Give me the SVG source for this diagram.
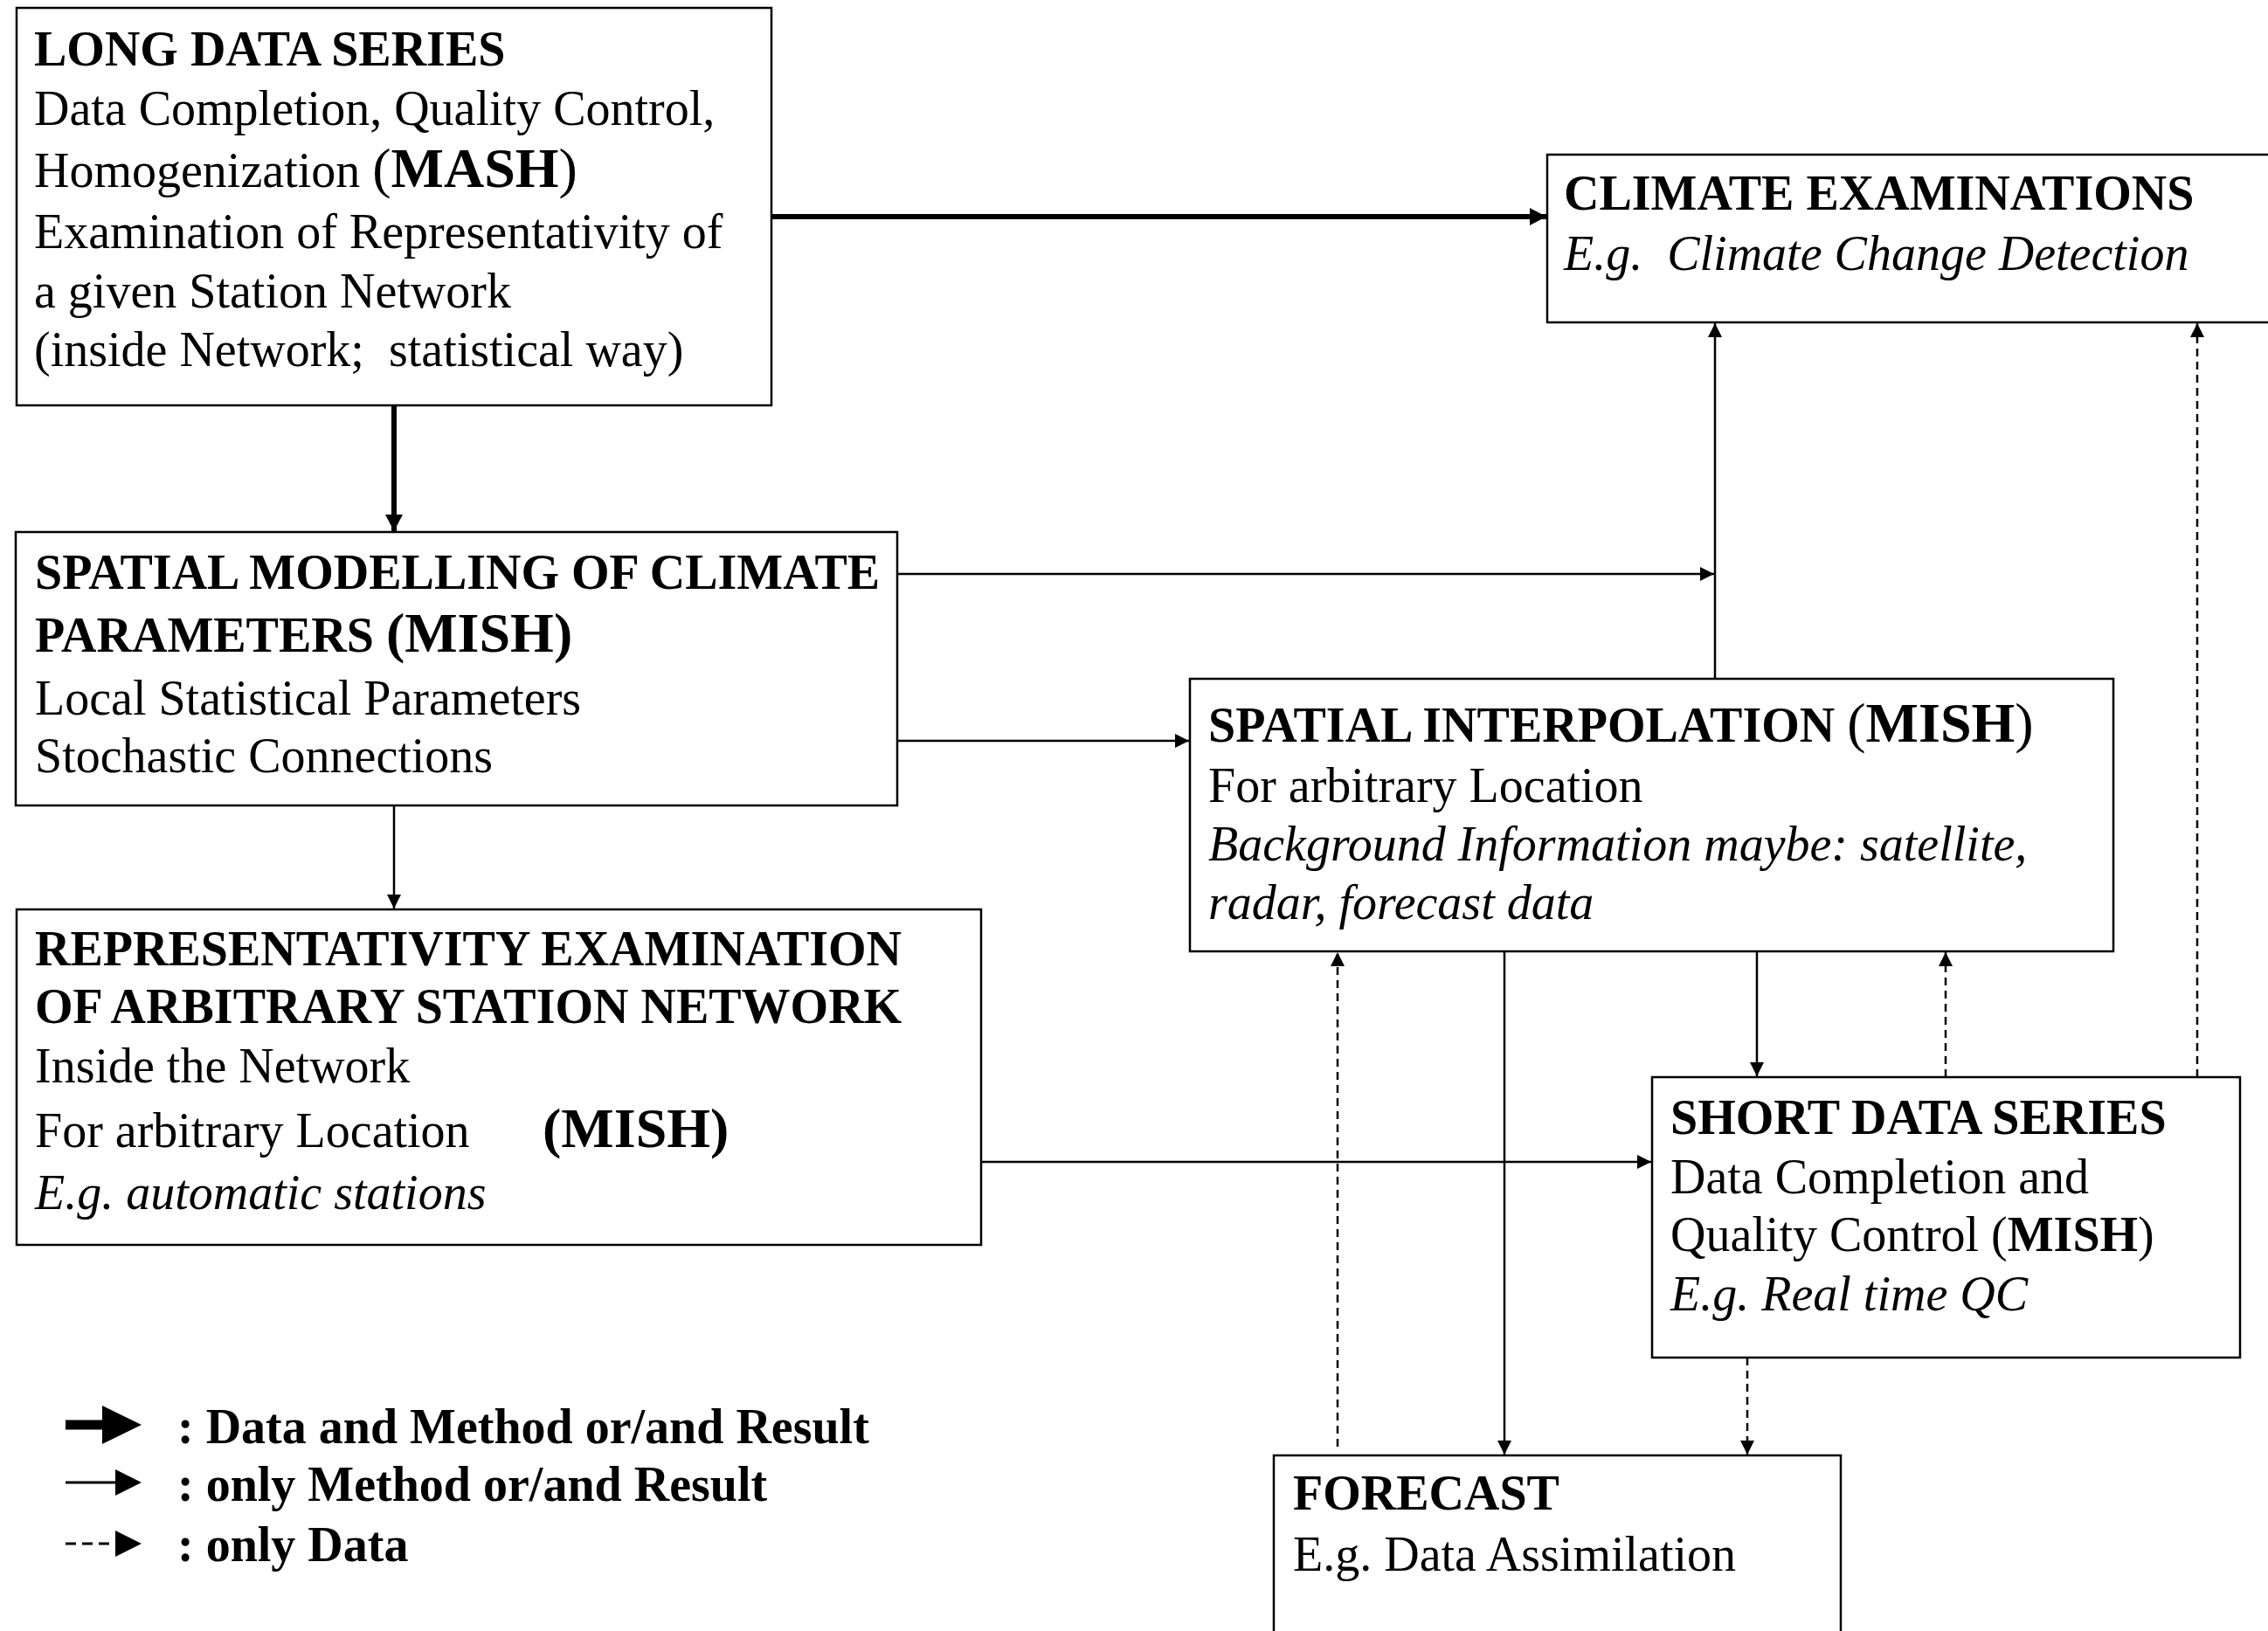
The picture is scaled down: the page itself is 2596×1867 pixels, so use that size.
<svg xmlns="http://www.w3.org/2000/svg" width="2596" height="1867" viewBox="0 0 2596 1867">
<style>
.box{fill:#fff;stroke:#000;stroke-width:2.5}
text{font-family:"Liberation Serif","Times New Roman",serif;font-size:56px;fill:#000}
.b{font-weight:bold}
.i{font-style:italic}
.big{font-size:64px}
.thin{stroke:#000;stroke-width:2.5;fill:none}
.thick{stroke:#000;stroke-width:6;fill:none}
.dash{stroke:#000;stroke-width:2.5;fill:none;stroke-dasharray:9 6}
</style>
<defs>
<marker id="ah" markerUnits="userSpaceOnUse" markerWidth="16" markerHeight="16" refX="16" refY="8" orient="auto"><path d="M0,0 L16,8 L0,16 z" fill="#000"/></marker>
<marker id="ahT" markerUnits="userSpaceOnUse" markerWidth="20" markerHeight="20" refX="19" refY="10" orient="auto"><path d="M0,0 L19,10 L0,20 z" fill="#000"/></marker>
</defs>
<rect width="2596" height="1867" fill="#fff"/>

<g id="connectors">
<line class="thick" x1="883" y1="248" x2="1770" y2="248" marker-end="url(#ahT)"/>
<line class="thick" x1="451" y1="464" x2="451" y2="608" marker-end="url(#ahT)"/>
<line class="thin" x1="1027" y1="657" x2="1962" y2="657" marker-end="url(#ah)"/>
<line class="thin" x1="1027" y1="848" x2="1361" y2="848" marker-end="url(#ah)"/>
<line class="thin" x1="1963" y1="777" x2="1963" y2="370" marker-end="url(#ah)"/>
<line class="thin" x1="451" y1="922" x2="451" y2="1040" marker-end="url(#ah)"/>
<line class="thin" x1="1123" y1="1330" x2="1890" y2="1330" marker-end="url(#ah)"/>
<line class="thin" x1="2011" y1="1089" x2="2011" y2="1232" marker-end="url(#ah)"/>
<line class="dash" x1="2227" y1="1233" x2="2227" y2="1090" marker-end="url(#ah)"/>
<line class="dash" x1="2515" y1="1233" x2="2515" y2="370" marker-end="url(#ah)"/>
<line class="dash" x1="2000" y1="1554" x2="2000" y2="1665" marker-end="url(#ah)"/>
<line class="thin" x1="1722" y1="1089" x2="1722" y2="1665" marker-end="url(#ah)"/>
<line class="dash" x1="1531" y1="1656" x2="1531" y2="1090" marker-end="url(#ah)"/>
</g>

<g id="long-data-series">
<rect class="box" x="19" y="9" width="864" height="455"/>
<text x="39" y="75" class="b">LONG DATA SERIES</text>
<text x="39" y="143">Data Completion, Quality Control,</text>
<text x="39" y="214">Homogenization <tspan class="big">(</tspan><tspan class="big b">MASH</tspan><tspan class="big">)</tspan></text>
<text x="39" y="284">Examination of Representativity of</text>
<text x="39" y="352">a given Station Network</text>
<text x="39" y="419" xml:space="preserve">(inside Network;  statistical way)</text>
</g>

<g id="climate-examinations">
<rect class="box" x="1771" y="177" width="900" height="192"/>
<text x="1790" y="240" class="b">CLIMATE EXAMINATIONS</text>
<text x="1790" y="309" class="i" xml:space="preserve">E.g.  Climate Change Detection</text>
</g>

<g id="spatial-modelling">
<rect class="box" x="18" y="609" width="1009" height="313"/>
<text x="40" y="674" class="b">SPATIAL MODELLING OF CLIMATE</text>
<text x="40" y="746" class="b">PARAMETERS <tspan class="big">(MISH)</tspan></text>
<text x="40" y="818">Local Statistical Parameters</text>
<text x="40" y="884">Stochastic Connections</text>
</g>

<g id="spatial-interpolation">
<rect class="box" x="1362" y="777" width="1057" height="312"/>
<text x="1383" y="849" class="b">SPATIAL INTERPOLATION <tspan class="big" font-weight="normal">(</tspan><tspan class="big">MISH</tspan><tspan class="big" font-weight="normal">)</tspan></text>
<text x="1383" y="918">For arbitrary Location</text>
<text x="1383" y="985" class="i">Background Information maybe: satellite,</text>
<text x="1383" y="1052" class="i">radar, forecast data</text>
</g>

<g id="representativity">
<rect class="box" x="19" y="1041" width="1104" height="384"/>
<text x="40" y="1105" class="b">REPRESENTATIVITY EXAMINATION</text>
<text x="40" y="1171" class="b">OF ARBITRARY STATION NETWORK</text>
<text x="40" y="1239">Inside the Network</text>
<text x="40" y="1313">For arbitrary Location</text>
<text x="621" y="1313" class="b big">(MISH)</text>
<text x="40" y="1384" class="i">E.g. automatic stations</text>
</g>

<g id="short-data-series">
<rect class="box" x="1891" y="1233" width="673" height="321"/>
<text x="1912" y="1298" class="b">SHORT DATA SERIES</text>
<text x="1912" y="1366">Data Completion and</text>
<text x="1912" y="1432">Quality Control (<tspan class="b">MISH</tspan>)</text>
<text x="1912" y="1500" class="i">E.g. Real time QC</text>
</g>

<g id="forecast">
<rect class="box" x="1458" y="1666" width="649" height="260"/>
<text x="1480" y="1728" class="b">FORECAST</text>
<text x="1480" y="1798">E.g. Data Assimilation</text>
</g>

<g id="legend">
<line x1="75" y1="1631" x2="120" y2="1631" stroke="#000" stroke-width="11"/>
<path d="M117,1609 L162,1631 L117,1653 z" fill="#000"/>
<line x1="75" y1="1697" x2="134" y2="1697" stroke="#000" stroke-width="3"/>
<path d="M132,1682 L162,1697 L132,1712 z" fill="#000"/>
<line x1="75" y1="1767" x2="134" y2="1767" stroke="#000" stroke-width="3" stroke-dasharray="12 7"/>
<path d="M132,1752 L162,1767 L132,1782 z" fill="#000"/>
<text x="203" y="1652" class="b">: Data and Method or/and Result</text>
<text x="203" y="1718" class="b">: only Method or/and Result</text>
<text x="203" y="1787" class="b">: only Data</text>
</g>
</svg>
